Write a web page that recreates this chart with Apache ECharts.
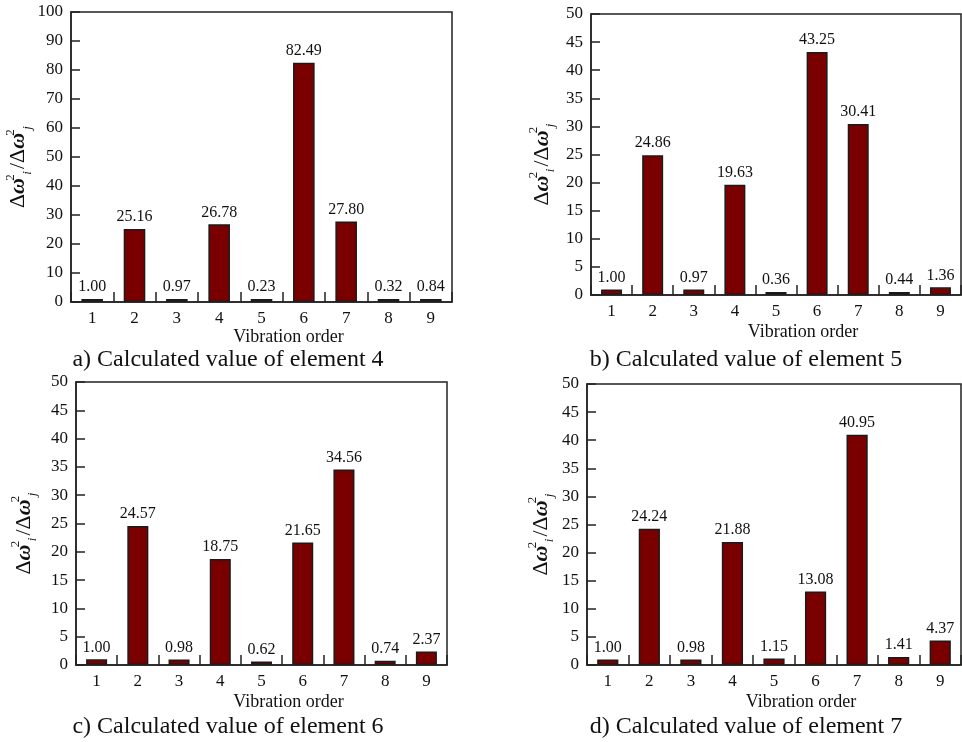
<!DOCTYPE html>
<html><head><meta charset="utf-8">
<script src="https://cdn.jsdelivr.net/npm/echarts@6/dist/echarts.min.js"></script>
<style>html,body{margin:0;padding:0;background:#fff}#c{width:962px;height:742px}</style>
</head><body><div id="c"></div>
<script>
const categories = ['1','2','3','4','5','6','7','8','9'];
const element4 = [1.00, 25.16, 0.97, 26.78, 0.23, 82.49, 27.80, 0.32, 0.84];
const element5 = [1.00, 24.86, 0.97, 19.63, 0.36, 43.25, 30.41, 0.44, 1.36];
const element6 = [1.00, 24.57, 0.98, 18.75, 0.62, 21.65, 34.56, 0.74, 2.37];
const element7 = [1.00, 24.24, 0.98, 21.88, 1.15, 13.08, 40.95, 1.41, 4.37];
const captions = ['a) Calculated value of element 4', 'b) Calculated value of element 5',
                  'c) Calculated value of element 6', 'd) Calculated value of element 7'];
const yMax = [100, 50, 50, 50];
const yStep = [10, 5, 5, 5];
const xName = 'Vibration order';

const seriesData = [element4, element5, element6, element7];
const FONT = '"Liberation Serif", "Times New Roman", serif';
const grids = [
  {left: 71, top: 12, width: 381, height: 290},
  {left: 591, top: 14, width: 370, height: 281},
  {left: 76, top: 382, width: 371, height: 283},
  {left: 587, top: 384, width: 374, height: 281}
];
const yGaps = [36, 34, 37, 31];
const xGaps = [24, 28, 28, 28];
const capPos = [[228, 360], [746, 360], [228, 727], [746, 727]];

const richName = {
  d: {fontSize: 22, fontFamily: FONT, color: '#111', lineHeight: 30, verticalAlign: 'middle'},
  w: {fontSize: 22, fontFamily: FONT, color: '#111', fontStyle: 'italic', fontWeight: 'bold', lineHeight: 30, verticalAlign: 'middle'},
  s: {fontSize: 13, fontFamily: FONT, color: '#111', lineHeight: 30, verticalAlign: 'top', width: 1},
  b: {fontSize: 13, fontFamily: FONT, color: '#111', fontStyle: 'italic', lineHeight: 30, verticalAlign: 'bottom', width: 8}
};
const yNameText = '{d|Δ}{w|ω}{s|2}{b|i}{d|/Δ}{w|ω}{s|2}{b|j}';

const tickStyle = {color: '#222', width: 1.5};
const option = {
  backgroundColor: '#fff',
  animation: false,
  grid: grids.map(g => Object.assign({show: true, borderColor: '#222', borderWidth: 1.5, backgroundColor: 'transparent', z: 0}, g)),
  xAxis: grids.map((g, i) => ({
    type: 'category', gridIndex: i, data: categories, z: 5,
    name: xName, nameLocation: 'middle', nameGap: xGaps[i],
    nameTextStyle: {fontFamily: FONT, fontSize: 18, color: '#111', padding: [0, 0, 0, 54]},
    axisLine: {show: true, lineStyle: tickStyle},
    axisTick: {show: true, inside: true, length: 10, alignWithLabel: false, interval: 0, lineStyle: tickStyle},
    axisLabel: {fontFamily: FONT, fontSize: 17, color: '#111', margin: 8},
    splitLine: {show: false}
  })),
  yAxis: grids.map((g, i) => ({
    type: 'value', gridIndex: i, min: 0, max: yMax[i], interval: yStep[i], z: 5,
    name: yNameText, nameLocation: 'middle', nameGap: yGaps[i], nameRotate: 90,
    nameTextStyle: {rich: richName, padding: [0, 18, 0, 0]},
    axisLine: {show: true, lineStyle: tickStyle},
    axisTick: {show: true, inside: true, length: 9, interval: 0, lineStyle: tickStyle},
    axisLabel: {fontFamily: FONT, fontSize: 17, color: '#111', margin: 8},
    splitLine: {show: false}
  })),
  series: seriesData.map((d, i) => ({
    type: 'bar', xAxisIndex: i, yAxisIndex: i, data: d, barWidth: '51%', barMinHeight: 3, z: 2,
    itemStyle: {color: '#7a0000', borderColor: '#1a1a1a', borderWidth: 1.5},
    label: {show: true, position: 'top', distance: 4, fontFamily: FONT, fontSize: 16, color: '#111',
            formatter: p => p.value.toFixed(2)}
  })),
  graphic: captions.map((t, i) => ({
    type: 'text', x: capPos[i][0], y: capPos[i][1],
    style: {text: t, font: '24px ' + FONT, fill: '#111', align: 'center', verticalAlign: 'middle'}
  }))
};
const chart = echarts.init(document.getElementById('c'), null, {renderer: 'canvas'});
chart.setOption(option);
</script></body></html>
